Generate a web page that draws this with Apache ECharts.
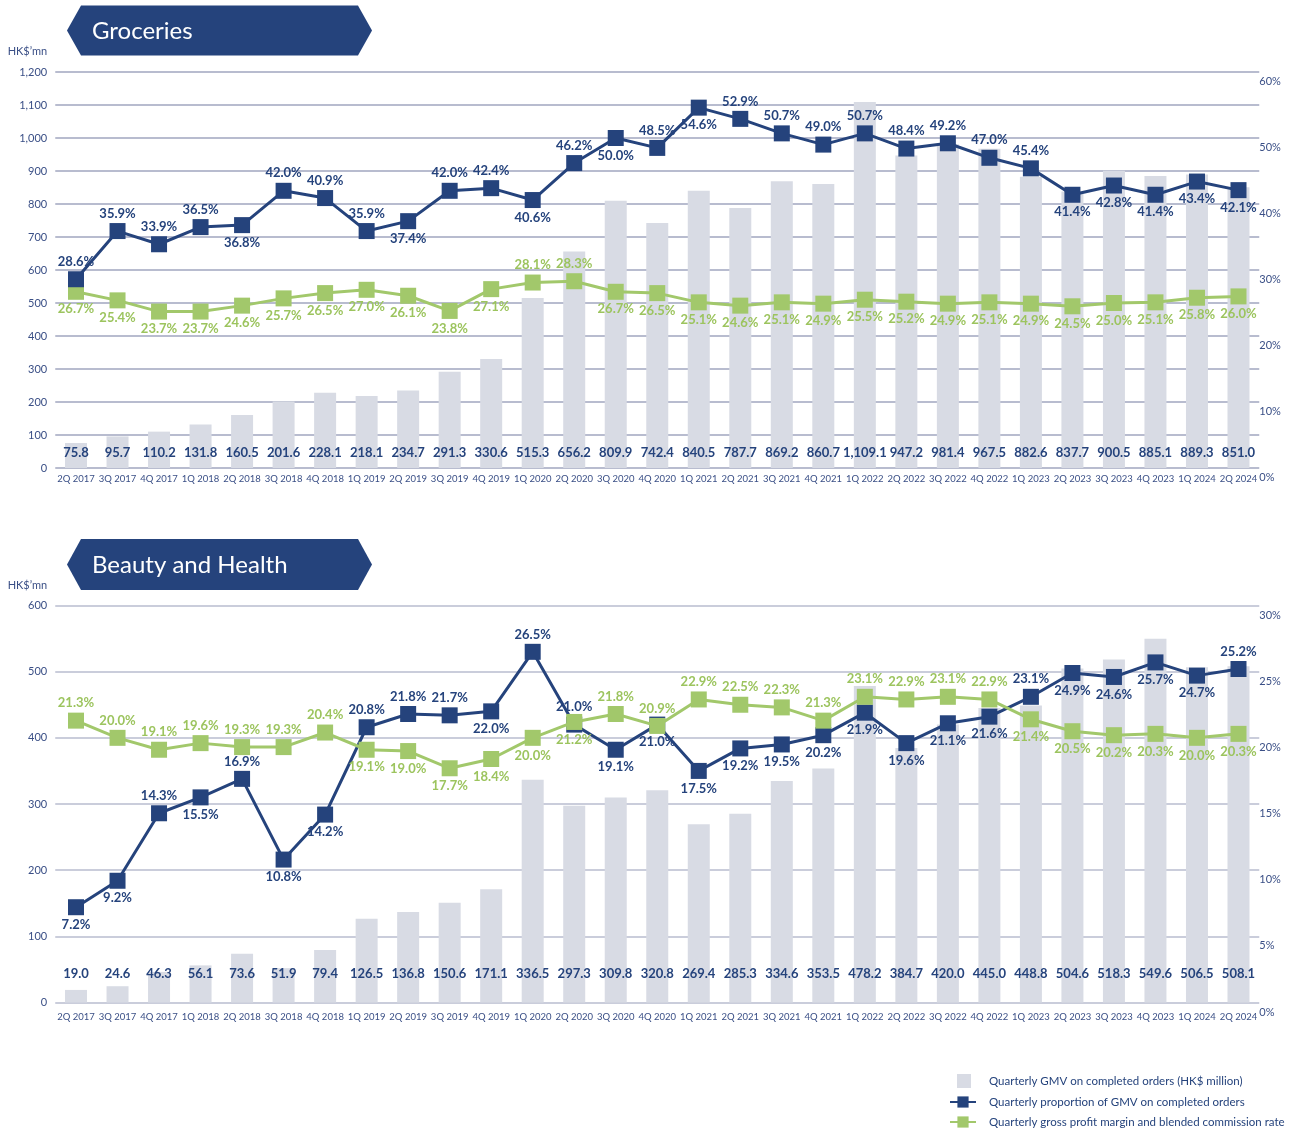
<!DOCTYPE html>
<html>
<head>
<meta charset="utf-8">
<script src="https://cdn.jsdelivr.net/npm/echarts@6/dist/echarts.min.js"></script>
<style>
html,body{margin:0;padding:0;background:#ffffff;}
#chart{width:1295px;height:1131px;}
</style>
</head>
<body>
<div id="chart"></div>
<script>
// ---------------- DATA ----------------
const quarters = ['2Q 2017','3Q 2017','4Q 2017','1Q 2018','2Q 2018','3Q 2018','4Q 2018','1Q 2019','2Q 2019','3Q 2019','4Q 2019','1Q 2020','2Q 2020','3Q 2020','4Q 2020','1Q 2021','2Q 2021','3Q 2021','4Q 2021','1Q 2022','2Q 2022','3Q 2022','4Q 2022','1Q 2023','2Q 2023','3Q 2023','4Q 2023','1Q 2024','2Q 2024'];

const groceriesGMV = [75.8,95.7,110.2,131.8,160.5,201.6,228.1,218.1,234.7,291.3,330.6,515.3,656.2,809.9,742.4,840.5,787.7,869.2,860.7,1109.1,947.2,981.4,967.5,882.6,837.7,900.5,885.1,889.3,851.0];
const groceriesProportion = [28.6,35.9,33.9,36.5,36.8,42.0,40.9,35.9,37.4,42.0,42.4,40.6,46.2,50.0,48.5,54.6,52.9,50.7,49.0,50.7,48.4,49.2,47.0,45.4,41.4,42.8,41.4,43.4,42.1];
const groceriesMargin = [26.7,25.4,23.7,23.7,24.6,25.7,26.5,27.0,26.1,23.8,27.1,28.1,28.3,26.7,26.5,25.1,24.6,25.1,24.9,25.5,25.2,24.9,25.1,24.9,24.5,25.0,25.1,25.8,26.0];

const beautyGMV = [19.0,24.6,46.3,56.1,73.6,51.9,79.4,126.5,136.8,150.6,171.1,336.5,297.3,309.8,320.8,269.4,285.3,334.6,353.5,478.2,384.7,420.0,445.0,448.8,504.6,518.3,549.6,506.5,508.1];
const beautyProportion = [7.2,9.2,14.3,15.5,16.9,10.8,14.2,20.8,21.8,21.7,22.0,26.5,21.0,19.1,21.0,17.5,19.2,19.5,20.2,21.9,19.6,21.1,21.6,23.1,24.9,24.6,25.7,24.7,25.2];
const beautyMargin = [21.3,20.0,19.1,19.6,19.3,19.3,20.4,19.1,19.0,17.7,18.4,20.0,21.2,21.8,20.9,22.9,22.5,22.3,21.3,23.1,22.9,23.1,22.9,21.4,20.5,20.2,20.3,20.0,20.3];

const leftTicksGroceries = [0,1200,100];
const rightTicksGroceries = [0,60,10];
const leftTicksBeauty = [0,600,100];
const rightTicksBeauty = [0,30,5];

// label side per point (T = above, B = below) - styling only
const groceriesPropSide   = 'TTTTBTTTBTTBTBTBTTTTTTTTBBBBB';
const groceriesMarginSide = 'BBBBBBBBBBBTTBBBBBBBBBBBBBBBB';
const beautyPropSide      = 'BBTBTBBTTTBTTBBBBBBBBBBTBBBBT';
const beautyMarginSide    = 'TTTTTTTBBBBBBTTTTTTTTTTBBBBBB';

const NAME_BAR = 'Quarterly GMV on completed orders (HK$ million)';
const NAME_PROP = 'Quarterly proportion of GMV on completed orders';
const NAME_MARGIN = 'Quarterly gross profit margin and blended commission rate';

// ---------------- STYLE ----------------
const FONT = 'Lato';
const NAVY = '#25437c';
const GREEN = '#a2c86b';
const GREEN_TEXT = '#9cc45e';
const BAR = '#d8dbe4';
const GRID = '#b8bccf';
const AXIS_TEXT = '#3a4f86';

function fmtNum(v){
  return v.toLocaleString('en-US',{minimumFractionDigits:1,maximumFractionDigits:1});
}

function lineData(values, sides){
  return values.map((v,i)=>({
    value: v,
    label: { position: sides[i]==='T' ? 'top' : 'bottom' }
  }));
}

function makeAxes(gridIndex, left, right, lineWidth, xMargin){
  const xAxis = {
    type:'category', gridIndex, data: quarters,
    axisTick:{show:false}, axisLine:{show:false},
    axisLabel:{interval:0, color:AXIS_TEXT, fontSize:9.5, fontFamily:FONT, margin:xMargin}
  };
  const yLeft = {
    type:'value', gridIndex, min:left[0], max:left[1], interval:left[2],
    name:'HK$\u2019mn', nameLocation:'end', nameGap:15,
    nameTextStyle:{color:AXIS_TEXT, fontSize:11, fontFamily:FONT, align:'right', padding:[0,8,0,0]},
    axisLine:{show:false}, axisTick:{show:false},
    axisLabel:{color:AXIS_TEXT, fontSize:11, fontFamily:FONT, margin:8, formatter:v=>v.toLocaleString('en-US')},
    splitLine:{show:true, lineStyle:{color:GRID, width:lineWidth}}
  };
  const yRight = {
    type:'value', gridIndex, position:'right', min:right[0], max:right[1], interval:right[2],
    axisLine:{show:false}, axisTick:{show:false}, splitLine:{show:false},
    axisLabel:{color:AXIS_TEXT, fontSize:11, fontFamily:FONT, margin:0, verticalAlign:'top', padding:[4,0,0,0], formatter:'{value}%'}
  };
  return {xAxis, yLeft, yRight};
}

function makeSeries(idx, gmv, prop, margin, propSide, marginSide, barDist, greenOnTop){
  const xi = idx, yl = idx*2, yr = idx*2+1;
  return [
    {
      name: NAME_BAR, type:'bar', xAxisIndex:xi, yAxisIndex:yl, data:gmv,
      barWidth:22, itemStyle:{color:BAR}, z:1,
      label:{show:true, position:'insideBottom', distance:barDist, color:NAVY,
        fontWeight:'bold', fontSize:13, fontFamily:FONT, formatter:p=>fmtNum(p.value)}
    },
    {
      name: NAME_PROP, type:'line', xAxisIndex:xi, yAxisIndex:yr, data:lineData(prop, propSide),
      symbol:'rect', symbolSize:16, lineStyle:{color:NAVY, width:3}, itemStyle:{color:NAVY},
      z: greenOnTop ? 3 : 4,
      label:{show:true, distance:3, color:NAVY, fontWeight:'bold', fontSize:13, fontFamily:FONT,
        formatter:p=>p.value.toFixed(1)+'%'}
    },
    {
      name: NAME_MARGIN, type:'line', xAxisIndex:xi, yAxisIndex:yr, data:lineData(margin, marginSide),
      symbol:'rect', symbolSize:16, lineStyle:{color:GREEN, width:3}, itemStyle:{color:GREEN},
      z: greenOnTop ? 4 : 3,
      label:{show:true, distance:3, color:GREEN_TEXT, fontWeight:'bold', fontSize:13, fontFamily:FONT,
        formatter:p=>p.value.toFixed(1)+'%'}
    }
  ];
}

const a0 = makeAxes(0, leftTicksGroceries, rightTicksGroceries, 2, 6);
const a1 = makeAxes(1, leftTicksBeauty, rightTicksBeauty, 1.5, 9);

function banner(y0, y1, text){
  const mid = (y0+y1)/2;
  return [
    {type:'polygon', z:10, shape:{points:[[67,mid],[81,y0],[358,y0],[372,mid],[358,y1],[81,y1]]}, style:{fill:NAVY}},
    {type:'text', z:11, style:{x:92, y:mid+1, text:text, fill:'#ffffff', fontSize:24, fontFamily:FONT, verticalAlign:'middle'}}
  ];
}

const option = {
  backgroundColor:'#ffffff',
  animation:false,
  textStyle:{fontFamily:FONT},
  grid:[
    {left:55.25, right:35.75, top:72, height:396},
    {left:55.25, right:35.75, top:605.5, height:397}
  ],
  xAxis:[a0.xAxis, a1.xAxis],
  yAxis:[a0.yLeft, a0.yRight, a1.yLeft, a1.yRight],
  legend:{
    orient:'vertical', left:949, top:1074, height:80, padding:0,
    itemWidth:26, itemHeight:14, itemGap:8,
    selectedMode:false,
    textStyle:{color:NAVY, fontSize:11.5, fontFamily:FONT, padding:[0,0,0,8]},
    data:[
      {name:NAME_BAR, icon:'path://M0,0L0,0M7,0L21,0L21,14L7,14ZM26,14L26,14'},
      NAME_PROP, NAME_MARGIN
    ]
  },
  graphic: banner(5.5, 55.5, 'Groceries').concat(banner(539, 590, 'Beauty and Health')),
  series: makeSeries(0, groceriesGMV, groceriesProportion, groceriesMargin, groceriesPropSide, groceriesMarginSide, 9, false)
    .concat(makeSeries(1, beautyGMV, beautyProportion, beautyMargin, beautyPropSide, beautyMarginSide, 22, true))
};

const chart = echarts.init(document.getElementById('chart'), null, {renderer:'canvas'});
chart.setOption(option);
</script>
</body>
</html>
